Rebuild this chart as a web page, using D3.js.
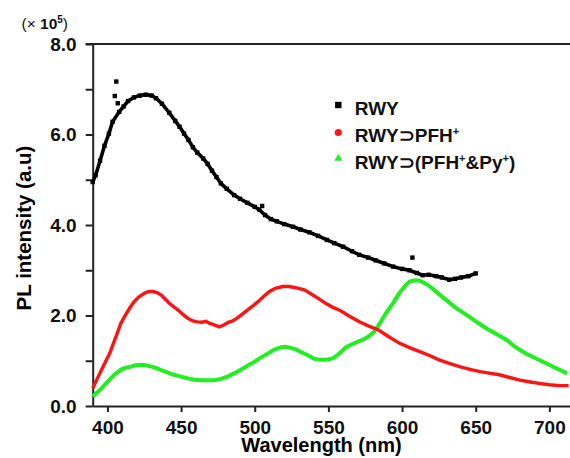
<!DOCTYPE html>
<html>
<head>
<meta charset="utf-8">
<script src="https://d3js.org/d3.v7.min.js"></script>
<style>
  body { margin: 0; background: #fff; }
  text { font-family: "Liberation Sans", Arial, sans-serif; }
</style>
</head>
<body>
<div id="pl"></div>
<script>
// data: [wavelength (nm), intensity (x 10^5)]
var rwy = [[390,4.95],[392,5.1],[395,5.42],[398,5.75],[401,6.02],[403.5,6.28],[408,6.5],[411,6.62],
  [414,6.74],[418,6.82],[422,6.86],[426,6.88],[430,6.86],[433,6.8],[437,6.68],[442,6.48],[446,6.3],
  [449,6.17],[452,6.02],[455,5.88],[458,5.72],[461,5.6],[465,5.47],[468,5.35],[471,5.2],[474,5.06],
  [477,4.92],[481,4.8],[486,4.66],[490,4.58],[495,4.49],[500,4.4],[503,4.34],[507,4.22],[511,4.13],
  [515,4.08],[520,4.02],[526,3.96],[531,3.9],[537,3.84],[543,3.76],[549,3.67],[554,3.6],[560,3.52],
  [566,3.42],[571,3.34],[577,3.28],[582,3.22],[588,3.15],[594,3.08],[600,3.03],[605,3.0],[610,2.94],
  [614,2.89],[618,2.9],[623,2.87],[627,2.84],[632,2.79],[636,2.81],[640,2.84],[645,2.87],[650,2.93]];
// stray points of the RWY scan
var rwyStray = [[405,6.85],[406,7.17],[407,6.69],[505,4.42],[607,3.28]];

var rwyPfh = [[390,0.39],[393,0.6],[396,0.8],[399,1.0],[401.5,1.16],[404,1.38],[407,1.64],[409,1.82],
  [411.5,1.97],[415,2.16],[418,2.3],[421,2.4],[425,2.49],[428,2.53],[431,2.53],[434,2.5],[436.5,2.45],
  [439,2.37],[442,2.27],[445,2.19],[448,2.12],[451,2.03],[454.5,1.94],[458,1.88],[461,1.86],[464,1.85],
  [467,1.87],[469,1.83],[472,1.8],[476,1.75],[479,1.79],[482,1.85],[485,1.88],[488,1.94],[492,2.04],
  [495,2.12],[499,2.22],[502,2.3],[506,2.42],[510,2.53],[514,2.6],[519,2.64],[523,2.64],[527,2.62],
  [531,2.59],[534,2.56],[538,2.48],[543,2.38],[548,2.27],[553,2.18],[558,2.11],[564,1.99],[571,1.86],
  [577,1.77],[584,1.68],[591,1.53],[598,1.39],[605,1.29],[612,1.2],[619,1.11],[625,1.02],[632,0.94],
  [639,0.87],[646,0.81],[653,0.76],[660,0.72],[666,0.69],[673,0.63],[680,0.57],[687,0.53],[693,0.5],
  [700,0.47],[707,0.45],[713,0.45]];

var rwyPfhPy = [[390,0.21],[393,0.3],[396,0.39],[399,0.5],[402,0.6],[405,0.7],[409,0.8],[412,0.84],
  [416,0.87],[419,0.9],[423,0.91],[426,0.9],[430,0.87],[433,0.84],[436,0.8],[441,0.74],[445,0.69],
  [450,0.65],[454.5,0.61],[459,0.58],[463.5,0.57],[468,0.57],[472.5,0.57],[477,0.6],[481.5,0.65],
  [486,0.72],[490.5,0.8],[495,0.89],[500,0.98],[504,1.07],[509,1.16],[513,1.24],[518,1.3],[521,1.31],
  [525,1.28],[528,1.25],[531,1.2],[536,1.12],[540,1.05],[544,1.02],[548,1.02],[553,1.05],[557,1.15],
  [562,1.3],[567,1.38],[573,1.46],[577,1.53],[581,1.64],[585,1.83],[589,2.05],[594,2.28],[598,2.49],
  [602,2.65],[605,2.75],[609,2.78],[612,2.77],[615,2.72],[619,2.64],[624,2.5],[630,2.34],[636,2.18],
  [644,2.01],[650,1.87],[657,1.72],[664,1.59],[671,1.46],[677,1.3],[684,1.16],[691,1.05],[698,0.94],
  [705,0.83],[712,0.72]];

var xTicks = [400, 450, 500, 550, 600, 650, 700];
var yTicks = [0, 1, 2, 3, 4, 5, 6, 7, 8];
var legendNames = ["RWY", "RWY\u2283PFH", "RWY\u2283(PFH"];

// dimensions and margins
var margin = {top: 44, right: 0, bottom: 52, left: 92.7},
    width = 570 - margin.left - margin.right,
    height = 458 - margin.top - margin.bottom;

var svg = d3.select("#pl")
  .append("svg")
    .attr("width", 570)
    .attr("height", 458)
  .append("g")
    .attr("transform", "translate(" + margin.left + "," + margin.top + ")");

var x = d3.scaleLinear().domain([390, 714]).range([0, width]);
var y = d3.scaleLinear().domain([0, 8]).range([height, 0]);

// top frame line
svg.append("line")
  .attr("x1", -7).attr("x2", width)
  .attr("y1", 0).attr("y2", 0)
  .attr("stroke", "#222").attr("stroke-width", 2);

// X axis
var xa = svg.append("g")
  .attr("transform", "translate(0," + height + ")")
  .call(d3.axisBottom(x).tickValues(xTicks).tickSize(6).tickSizeOuter(0).tickPadding(8.5));

// Y axis
var ya = svg.append("g")
  .call(d3.axisLeft(y).tickValues(yTicks).tickSize(7).tickSizeOuter(0).tickPadding(9)
    .tickFormat(function(d) { return d % 2 === 0 ? d3.format(".1f")(d) : ""; }));

[xa, ya].forEach(function(a) {
  a.select(".domain").attr("stroke", "#222").attr("stroke-width", 2);
  a.selectAll(".tick line").attr("stroke", "#222").attr("stroke-width", 2);
  a.selectAll(".tick text")
    .style("font-size", "19px").style("font-weight", "bold").attr("fill", "#111");
});

var line = d3.line()
  .x(function(d) { return x(d[0]); })
  .y(function(d) { return y(d[1]); });

// curves
svg.append("path").datum(rwyPfhPy)
  .attr("d", line).attr("fill", "none")
  .attr("stroke", "#22ee22").attr("stroke-width", 4);

svg.append("path").datum(rwyPfh)
  .attr("d", line).attr("fill", "none")
  .attr("stroke", "#ff1414").attr("stroke-width", 3.4);

svg.append("path").datum(rwy)
  .attr("d", line).attr("fill", "none")
  .attr("stroke", "#000").attr("stroke-width", 3.6);

svg.selectAll("rwysq")
  .data(rwy.concat(rwyStray))
  .enter()
  .append("rect")
    .attr("x", function(d) { return x(d[0]) - 2.2; })
    .attr("y", function(d) { return y(d[1]) - 2.2; })
    .attr("width", 4.4).attr("height", 4.4)
    .attr("fill", "#000");

// axis titles
svg.append("text")
  .attr("x", 321.5 - margin.left).attr("y", 451.5 - margin.top)
  .attr("text-anchor", "middle")
  .style("font-size", "20px").style("font-weight", "bold")
  .text("Wavelength (nm)");

svg.append("text")
  .attr("transform", "translate(" + (31 - margin.left) + "," + (228 - margin.top) + ")rotate(-90)")
  .attr("text-anchor", "middle")
  .style("font-size", "20.5px").style("font-weight", "bold")
  .text("PL intensity (a.u)");

// multiplier
var mult = svg.append("text")
  .attr("x", 21.5 - margin.left).attr("y", 28.5 - margin.top)
  .style("font-size", "15.5px").attr("fill", "#111");
mult.append("tspan").text("(\u00d7 ");
mult.append("tspan").style("font-weight", "bold").text("10");
mult.append("tspan").attr("dy", -6).style("font-size", "10px").style("font-weight", "bold").text("5");
mult.append("tspan").attr("dy", 6).text(")");

// legend
var lg = svg.append("g").attr("transform", "translate(" + (338.3 - margin.left) + "," + (105 - margin.top) + ")");
lg.append("rect").attr("x", -3.2).attr("y", -3.2).attr("width", 6.4).attr("height", 6.4).attr("fill", "#000");
lg.append("circle").attr("cx", 0).attr("cy", 27.5).attr("r", 3.6).attr("fill", "#ff1414");
lg.append("path").attr("d", d3.symbol().type(d3.symbolTriangle).size(28)())
  .attr("transform", "translate(0,53.5)").attr("fill", "#22ee22");

var lt = lg.selectAll("lgtext")
  .data(legendNames)
  .enter()
  .append("text")
    .attr("x", 16.5)
    .attr("y", function(d, i) { return 10 + i * 27; })
    .style("font-size", "19px").style("font-weight", "bold").attr("fill", "#111");
lt.append("tspan").text(function(d) { return d; });
lt.filter(function(d, i) { return i > 0; })
  .append("tspan").attr("dy", -7).style("font-size", "11px").text("+");
lt.filter(function(d, i) { return i === 2; })
  .append("tspan").attr("dy", 7).text("&Py");
lt.filter(function(d, i) { return i === 2; })
  .append("tspan").attr("dy", -7).style("font-size", "11px").text("+");
lt.filter(function(d, i) { return i === 2; })
  .append("tspan").attr("dy", 7).text(")");
</script>
</body>
</html>
